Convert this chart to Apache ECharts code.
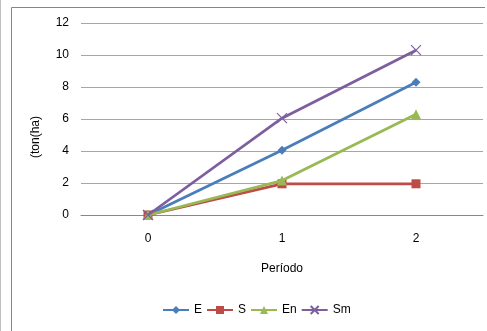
<!DOCTYPE html>
<html><head><meta charset="utf-8">
<script src="https://cdn.jsdelivr.net/npm/echarts@6/dist/echarts.min.js"></script>
<style>html,body{margin:0;padding:0;background:#fff}#c{width:487px;height:331px}</style>
</head><body><div id="c"></div>
<script>
const categories = ['0', '1', '2'];
const seriesNames = ['E', 'S', 'En', 'Sm'];
const valuesE = [0, 4.05, 8.3];
const valuesS = [0, 1.95, 1.95];
const valuesEn = [0, 2.15, 6.3];
const valuesSm = [0, 6.05, 10.3];
const yTicks = [0, 2, 4, 6, 8, 10, 12];
const xTitle = 'Período';
const yTitle = '(ton(ha)';

const colors = ['#4a7ebb', '#be4b48', '#98b954', '#7d5fa0'];
const symbols = ['diamond', 'rect', 'triangle', 'path://M0,0L10,10M10,0L0,10'];
const sizes = [9, 9, 10, 10];
const dataArr = [valuesE, valuesS, valuesEn, valuesSm];
const font = 'Liberation Sans, Arial, sans-serif';

const chart = echarts.init(document.getElementById('c'), null, {renderer: 'canvas'});
chart.setOption({
  animation: false,
  backgroundColor: '#fff',
  grid: {left: 81, right: 4, top: 23, bottom: 116},
  xAxis: {
    type: 'category', data: categories, boundaryGap: true,
    name: xTitle, nameLocation: 'middle', nameGap: 48,
    nameTextStyle: {fontFamily: font, fontSize: 12, color: '#000'},
    axisLine: {show: true, lineStyle: {color: '#878787', width: 1}},
    axisTick: {show: false},
    axisLabel: {fontFamily: font, fontSize: 12, color: '#000', margin: 18}
  },
  yAxis: {
    type: 'value', min: yTicks[0], max: yTicks[yTicks.length - 1], interval: 2,
    axisLine: {show: false}, axisTick: {show: false},
    splitLine: {lineStyle: {color: '#a6a6a6', width: 1}},
    axisLabel: {fontFamily: font, fontSize: 12, color: '#000', margin: 12}
  },
  legend: {
    left: 162, top: 304, padding: 0, itemWidth: 26, itemHeight: 10, itemGap: 4,
    textStyle: {fontFamily: font, fontSize: 12, color: '#000'},
    data: seriesNames
  },
  graphic: [
    {type: 'line', shape: {x1: 11.5, y1: 7.5, x2: 11.5, y2: 331}, style: {stroke: '#868686', lineWidth: 1}},
    {type: 'line', shape: {x1: 11.5, y1: 7.5, x2: 485, y2: 7.5}, style: {stroke: '#868686', lineWidth: 1}},
    {type: 'line', shape: {x1: 0.5, y1: 0, x2: 0.5, y2: 331}, style: {stroke: '#c0c0c0', lineWidth: 1}},
    {type: 'text', x: 30, y: 137, rotation: Math.PI / 2,
     style: {text: yTitle, font: '12px ' + font, fill: '#000', align: 'center', verticalAlign: 'top'}}
  ],
  series: seriesNames.map((n, i) => ({
    name: n, type: 'line', data: dataArr[i],
    symbol: symbols[i], symbolSize: sizes[i], showSymbol: true,
    lineStyle: {color: colors[i], width: 2.75},
    itemStyle: {color: colors[i], borderColor: colors[i], borderWidth: i === 3 ? 1.2 : 0},
    z: [1, 2, 3, 4][i]
  }))
});
</script></body></html>
